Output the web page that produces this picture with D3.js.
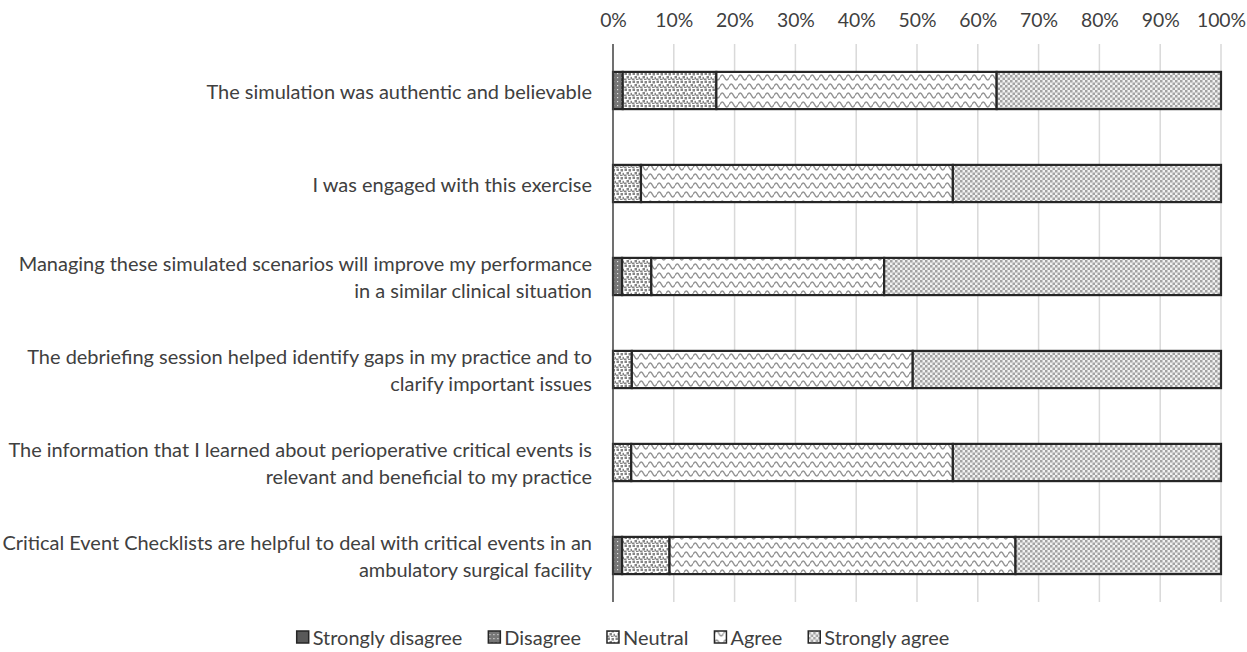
<!DOCTYPE html>
<html>
<head>
<meta charset="utf-8">
<script src="https://cdn.jsdelivr.net/npm/d3@7"></script>
<style>
  html, body { margin: 0; padding: 0; background: #fff; }
  svg { display: block; }
  text { font-family: "Lato", "Open Sans", sans-serif; fill: #404040; }
</style>
</head>
<body>
<svg id="chart" width="1247" height="652"></svg>
<script>
// Survey statements (each entry split into its printed lines)
const categories = [
  ["The simulation was authentic and believable"],
  ["I was engaged with this exercise"],
  ["Managing these simulated scenarios will improve my performance", "in a similar clinical situation"],
  ["The debriefing session helped identify gaps in my practice and to", "clarify important issues"],
  ["The information that I learned about perioperative critical events is", "relevant and beneficial to my practice"],
  ["Critical Event Checklists are helpful to deal with critical events in an", "ambulatory surgical facility"]
];

// Percent of respondents per response level
const stronglyDisagree = [0, 0, 0, 0, 0, 0];
const disagree         = [1.6, 0, 1.5, 0, 0, 1.5];
const neutral          = [15.4, 4.6, 4.8, 3.1, 3.0, 7.8];
const agree            = [46.1, 51.3, 38.3, 46.2, 52.9, 56.9];
const stronglyAgree    = [36.9, 44.1, 55.4, 50.7, 44.1, 33.8];

const seriesNames = ["Strongly disagree", "Disagree", "Neutral", "Agree", "Strongly agree"];
const tickValues = [0, 10, 20, 30, 40, 50, 60, 70, 80, 90, 100];

const svg = d3.select("#chart");
const plot = { left: 613, right: 1221, top: 44, bottom: 602 };

// ---- fill patterns ----
const defs = svg.append("defs");

// Disagree: dark grey with fine light dots
const pD = defs.append("pattern").attr("id", "pat-disagree")
  .attr("patternUnits", "userSpaceOnUse").attr("width", 4).attr("height", 4);
pD.append("rect").attr("width", 4).attr("height", 4).attr("fill", "#767676");
pD.append("rect").attr("x", 1).attr("y", 1).attr("width", 1.2).attr("height", 1.2).attr("fill", "#e0e0e0");

// Neutral: scattered confetti squares
const pN = defs.append("pattern").attr("id", "pat-neutral")
  .attr("patternUnits", "userSpaceOnUse").attr("width", 8).attr("height", 8);
pN.append("rect").attr("width", 8).attr("height", 8).attr("fill", "#fff");
[[0.5, 0.5], [4.5, 1], [2.5, 4], [6.5, 4.8], [0, 6.5], [4, 6.8]].forEach(([x, y]) =>
  pN.append("rect").attr("x", x).attr("y", y).attr("width", 2.5).attr("height", 2.5).attr("fill", "#858585"));

// Agree: horizontal waves
const pA = defs.append("pattern").attr("id", "pat-agree")
  .attr("patternUnits", "userSpaceOnUse").attr("width", 9).attr("height", 9);
pA.append("rect").attr("width", 9).attr("height", 9).attr("fill", "#fff");
pA.append("path").attr("d", "M0,5.5 Q2.25,0.5 4.5,5.5 T9,5.5")
  .attr("fill", "none").attr("stroke", "#939393").attr("stroke-width", 1.5);

// Strongly agree: small checkerboard
const pS = defs.append("pattern").attr("id", "pat-sagree")
  .attr("patternUnits", "userSpaceOnUse").attr("width", 5).attr("height", 5);
pS.append("rect").attr("width", 5).attr("height", 5).attr("fill", "#f2f2f2");
pS.append("rect").attr("width", 2.5).attr("height", 2.5).attr("fill", "#a3a3a3");
pS.append("rect").attr("x", 2.5).attr("y", 2.5).attr("width", 2.5).attr("height", 2.5).attr("fill", "#a3a3a3");

const fills = ["#595959", "url(#pat-disagree)", "url(#pat-neutral)", "url(#pat-agree)", "url(#pat-sagree)"];

// ---- scales ----
const x = d3.scaleLinear().domain([0, 100]).range([plot.left, plot.right]);
const y = d3.scaleBand().domain(d3.range(categories.length))
  .range([plot.top, plot.bottom]).paddingInner(0.6).paddingOuter(0.3);

// ---- font size fitted to the widest statement line ----
const probe = svg.append("text").attr("font-size", 16)
  .text("The information that I learned about perioperative critical events is");
const w16 = probe.node().getComputedTextLength();
probe.remove();
const fs = 16 * 584 / w16;

// ---- gridlines ----
svg.append("g").selectAll("line").data(tickValues.slice(1)).join("line")
  .attr("x1", d => x(d)).attr("x2", d => x(d))
  .attr("y1", plot.top).attr("y2", plot.bottom)
  .attr("stroke", "#d9d9d9").attr("stroke-width", 1.5);

// ---- top axis ----
const xAxis = d3.axisTop(x).tickValues(tickValues).tickFormat(d => d + "%").tickSize(0).tickPadding(0);
const gx = svg.append("g").attr("transform", "translate(0,27)").call(xAxis);
gx.select(".domain").remove();
gx.selectAll("text").attr("font-size", fs * 0.97).attr("fill", "#404040")
  .style("font-family", "Lato, 'Open Sans', sans-serif").attr("dy", 0);

// ---- stacked bars ----
const table = categories.map((c, i) => ({
  i,
  "Strongly disagree": stronglyDisagree[i],
  "Disagree": disagree[i],
  "Neutral": neutral[i],
  "Agree": agree[i],
  "Strongly agree": stronglyAgree[i]
}));
const stack = d3.stack().keys(seriesNames)(table);

svg.append("g").selectAll("g").data(stack).join("g")
  .attr("fill", (d, k) => fills[k])
  .selectAll("rect").data(d => d.filter(s => s[1] - s[0] > 0)).join("rect")
  .attr("x", d => x(d[0]))
  .attr("width", d => x(d[1]) - x(d[0]))
  .attr("y", d => y(d.data.i))
  .attr("height", y.bandwidth())
  .attr("stroke", "#262626").attr("stroke-width", 2.2);

// ---- category axis line ----
svg.append("line")
  .attr("x1", x(0)).attr("x2", x(0))
  .attr("y1", plot.top).attr("y2", plot.bottom)
  .attr("stroke", "#404040").attr("stroke-width", 1.5);

// ---- statement labels ----
const lineH = 27;
const lab = svg.append("g").selectAll("text").data(categories).join("text")
  .attr("text-anchor", "end")
  .attr("font-size", fs)
  .attr("x", 592)
  .attr("y", (d, i) => y(i) + y.bandwidth() / 2 - (d.length - 1) * lineH / 2)
  .attr("dominant-baseline", "central");
lab.selectAll("tspan").data(d => d).join("tspan")
  .attr("x", 592)
  .attr("dy", (d, j) => j === 0 ? 0 : lineH)
  .text(d => d);

// ---- legend ----
const legend = svg.append("g");
const items = legend.selectAll("g").data(seriesNames).join("g");
items.append("rect").attr("width", 12).attr("height", 12).attr("y", -6)
  .attr("fill", (d, k) => fills[k]).attr("stroke", "#262626").attr("stroke-width", 1.5);
items.append("text").attr("x", 16).attr("dominant-baseline", "central")
  .attr("font-size", fs).text(d => d);
let cx = 0;
items.each(function () {
  const g = d3.select(this);
  g.attr("transform", `translate(${cx},0)`);
  cx += 16 + g.select("text").node().getComputedTextLength() + 26;
});
const totalW = cx - 26;
legend.attr("transform", `translate(${623 - totalW / 2},637)`);
</script>
</body>
</html>
